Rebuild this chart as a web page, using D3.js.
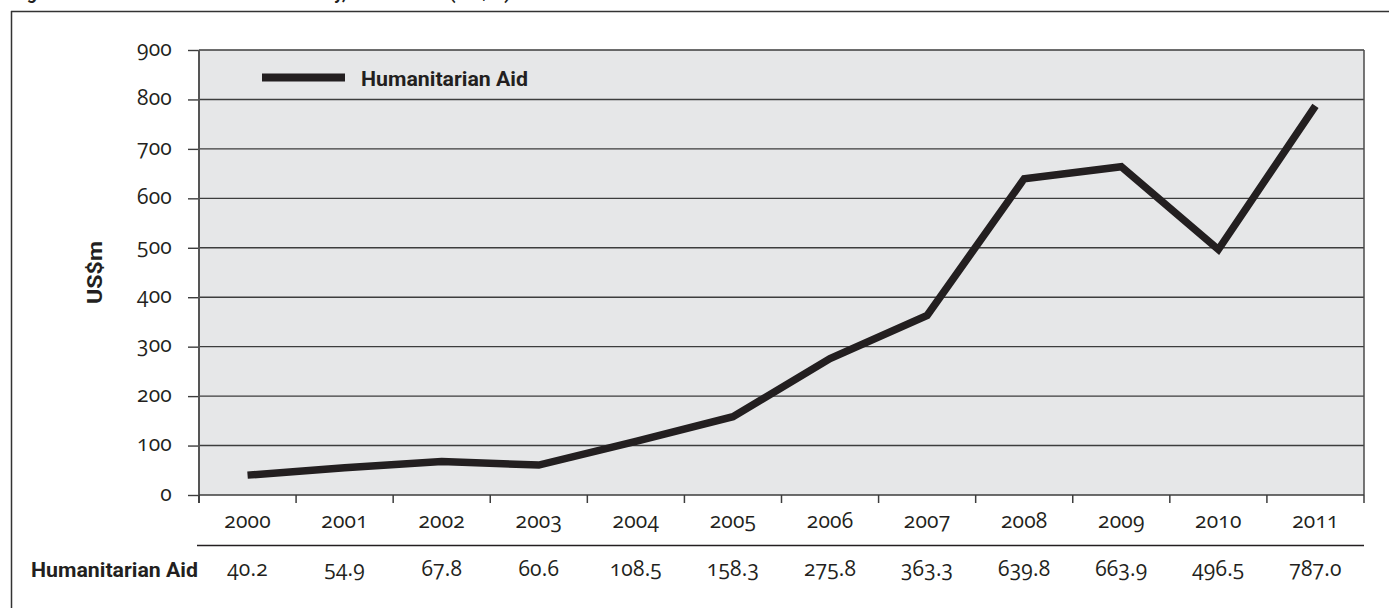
<!DOCTYPE html>
<html><head><meta charset="utf-8">
<script src="https://cdn.jsdelivr.net/npm/d3@7"></script>
<style>
body{margin:0;background:#fff;}
svg{display:block;}
.num{font-family:"Open Sans","Noto Sans",sans-serif;font-size:21px;letter-spacing:0.2px;fill:#231f20;font-variant-numeric:oldstyle-nums;font-feature-settings:"onum" 1;}
.bold{font-family:Roboto,"Noto Sans",sans-serif;font-weight:700;fill:#231f20;}
</style></head>
<body><svg id="c" width="1389" height="608"></svg>
<script>
const years = ["2000","2001","2002","2003","2004","2005","2006","2007","2008","2009","2010","2011"];
const humanitarianAid = [40.2,54.9,67.8,60.6,108.5,158.3,275.8,363.3,639.8,663.9,496.5,787.0];
const valueLabels = ["40.2","54.9","67.8","60.6","108.5","158.3","275.8","363.3","639.8","663.9","496.5","787.0"];
const yTicks = [0,100,200,300,400,500,600,700,800,900];
const seriesName = "Humanitarian Aid";
const yTitle = "US$m";
const title = "Figure 2: Humanitarian aid to the country, 2000–2011 (US$m)";

const svg = d3.select("#c");
const L = 199, R = 1364, T = 50, B = 495;
const x = d3.scaleBand().domain(years).range([L, R]);
const y = d3.scaleLinear().domain([0, 900]).range([B, T]);

// title (cut off at top, as in the reference)
svg.append("text").attr("class","bold").attr("x",12).attr("y",-1).style("font-size","18px").text(title);

// outer frame
svg.append("line").attr("x1",11).attr("x2",1389).attr("y1",11.5).attr("y2",11.5).attr("stroke","#333").attr("stroke-width",1.5);
svg.append("line").attr("x1",11.5).attr("x2",11.5).attr("y1",11).attr("y2",608).attr("stroke","#333").attr("stroke-width",1.5);

// plot background
svg.append("rect").attr("x",L).attr("y",T).attr("width",R-L).attr("height",B-T).attr("fill","#e6e7e8");

// gridlines
svg.append("g").selectAll("line").data(yTicks.filter(d=>d>0)).join("line")
  .attr("x1",L).attr("x2",R).attr("y1",d=>y(d)).attr("y2",d=>y(d))
  .attr("stroke","#3d3d3d").attr("stroke-width",1.4);

// right border
svg.append("line").attr("x1",R).attr("x2",R).attr("y1",T).attr("y2",B).attr("stroke","#4a4a4a").attr("stroke-width",1.5);

// y axis
const yAxis = d3.axisLeft(y).tickValues(yTicks).tickSize(11).tickPadding(16).tickFormat(d3.format("d"));
const gy = svg.append("g").attr("transform",`translate(${L},0)`).call(yAxis);
gy.select(".domain").remove();
gy.selectAll(".tick line").attr("stroke","#3d3d3d").attr("stroke-width",1.4);
gy.selectAll(".tick text").attr("class","num").attr("dy","0.25em");
svg.append("line").attr("x1",L).attr("x2",L).attr("y1",T).attr("y2",B+8).attr("stroke","#555").attr("stroke-width",2);

// x axis line + ticks at band boundaries
svg.append("line").attr("x1",L).attr("x2",R).attr("y1",B).attr("y2",B).attr("stroke","#3d3d3d").attr("stroke-width",1.5);
const bounds = years.map(d=>x(d)).concat([R]);
svg.append("g").selectAll("line").data(bounds).join("line")
  .attr("x1",d=>d).attr("x2",d=>d).attr("y1",B).attr("y2",B+8)
  .attr("stroke","#3d3d3d").attr("stroke-width",1.5);

// year labels
svg.append("g").selectAll("text").data(years).join("text")
  .attr("class","num").attr("text-anchor","middle")
  .attr("x",d=>x(d)+x.bandwidth()/2).attr("y",528).text(d=>d);

// table separator
svg.append("line").attr("x1",197).attr("x2",R).attr("y1",545.5).attr("y2",545.5).attr("stroke","#231f20").attr("stroke-width",1.5);

// table values
svg.append("g").selectAll("text").data(valueLabels).join("text")
  .attr("class","num").attr("text-anchor","middle")
  .attr("x",(d,i)=>x(years[i])+x.bandwidth()/2).attr("y",576).text(d=>d);
svg.append("text").attr("class","bold").attr("x",198).attr("y",577).attr("text-anchor","end")
  .style("font-size","20px").attr("textLength",167).attr("lengthAdjust","spacingAndGlyphs").text(seriesName);

// y title
svg.append("text").attr("class","bold").style("font-size","21px")
  .attr("transform",`translate(102,${(T+B)/2}) rotate(-90)`).attr("text-anchor","middle")
  .attr("textLength",63).attr("lengthAdjust","spacingAndGlyphs").text(yTitle);

// line
const line = d3.line().x((d,i)=>x(years[i])+x.bandwidth()/2).y(d=>y(d));
svg.append("path").datum(humanitarianAid).attr("d",line)
  .attr("fill","none").attr("stroke","#231f20").attr("stroke-width",7.5).attr("stroke-linejoin","miter");

// legend
svg.append("line").attr("x1",262).attr("x2",345).attr("y1",77.5).attr("y2",77.5).attr("stroke","#231f20").attr("stroke-width",8);
svg.append("text").attr("class","bold").attr("x",361).attr("y",86).style("font-size","20px")
  .attr("textLength",167).attr("lengthAdjust","spacingAndGlyphs").text(seriesName);
</script></body></html>
